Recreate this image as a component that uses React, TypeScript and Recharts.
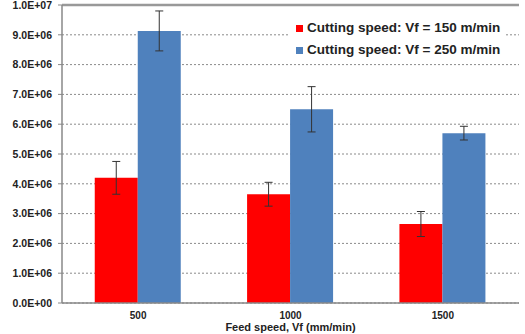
import React from "react";
import {
  BarChart,
  Bar,
  XAxis,
  YAxis,
  CartesianGrid,
  ErrorBar,
  ReferenceLine,
} from "recharts";

// Feed speed categories (mm/min)
const feedSpeeds = ["500", "1000", "1500"];
// Mean values for each cutting speed
const speed150 = [4200000, 3650000, 2650000];
const speed250 = [9130000, 6500000, 5700000];
// Error (± half range) for each series
const err150 = [550000, 400000, 420000];
const err250 = [670000, 760000, 230000];
// Y axis ticks
const yTicks = [0, 1e6, 2e6, 3e6, 4e6, 5e6, 6e6, 7e6, 8e6, 9e6, 1e7];

const seriesNames = [
  "Cutting speed: Vf = 150 m/min",
  "Cutting speed: Vf = 250 m/min",
];
const seriesColors = ["#FF0000", "#4F81BD"];

const data = feedSpeeds.map((f, i) => ({
  feed: f,
  idx: i + 0.5,
  s150: speed150[i],
  s250: speed250[i],
  e150: err150[i],
  e250: err250[i],
}));

const fmtSci = (v: number) => {
  if (v === 0) return "0.0E+00";
  const exp = Math.floor(Math.log10(v));
  const mant = v / Math.pow(10, exp);
  return `${mant.toFixed(1)}E+${String(exp).padStart(2, "0")}`;
};

const FONT = "'Liberation Sans', Arial, sans-serif";

const LegendBox = () => (
  <div
    style={{
      position: "absolute",
      left: 288,
      top: 17,
      background: "#fff",
      padding: "0px 6px 0px 8px",
      fontFamily: FONT,
      fontWeight: 700,
      fontSize: 13.5,
      color: "#222",
      lineHeight: "22px",
    }}
  >
    {seriesNames.map((n, i) => (
      <div key={n} style={{ display: "flex", alignItems: "center", whiteSpace: "nowrap" }}>
        <span
          style={{
            display: "inline-block",
            width: 7,
            height: 7,
            background: seriesColors[i],
            marginRight: 4,
          }}
        />
        {n}
      </div>
    ))}
  </div>
);

export default function App() {
  return (
    <div style={{ position: "absolute", left: 0, top: 0, width: 525, height: 334 }}>
      <BarChart
        width={525}
        height={334}
        data={data}
        margin={{ top: 5, right: 6, bottom: 0, left: 0 }}
        barCategoryGap="21.5%"
        barGap={0}
      >
        <CartesianGrid
          vertical={false}
          horizontal
          stroke="#8a8a8a"
          strokeDasharray="2 2"
          yAxisId="left"
          xAxisId="cat"
        />
        <XAxis
          xAxisId="bounds"
          type="number"
          dataKey="idx"
          domain={[0, 3]}
          ticks={[1, 2]}
          tick={false}
          tickSize={4}
          tickLine={{ stroke: "#777" }}
          axisLine={false}
          height={0}
        />
        <XAxis
          xAxisId="cat"
          dataKey="feed"
          height={31}
          tickLine={false}
          axisLine={{ stroke: "#888", strokeWidth: 1.5 }}
          tick={{ fontFamily: FONT, fontWeight: 700, fontSize: 10, fill: "#222" }}
          tickMargin={3}
          label={{
            value: "Feed speed, Vf (mm/min)",
            position: "insideBottom",
            offset: 3,
            style: { fontFamily: FONT, fontWeight: 700, fontSize: 11, fill: "#222" },
          }}
        />
        <YAxis
          yAxisId="left"
          domain={[0, 1e7]}
          ticks={yTicks}
          width={62}
          tickFormatter={fmtSci}
          tickSize={4}
          tickMargin={6}
          tickLine={{ stroke: "#888" }}
          axisLine={{ stroke: "#888", strokeWidth: 1.5 }}
          tick={{ fontFamily: FONT, fontWeight: 700, fontSize: 10.5, fill: "#222" }}
          interval={0}
        />
        <YAxis
          yAxisId="right"
          orientation="right"
          width={0}
          tick={false}
          tickLine={false}
          axisLine={{ stroke: "#999", strokeWidth: 1.5 }}
        />
        <ReferenceLine yAxisId="left" xAxisId="cat" y={1e7} stroke="#999" strokeWidth={2.5} />
        <Bar
          yAxisId="left"
          xAxisId="cat"
          dataKey="s150"
          fill={seriesColors[0]}
          isAnimationActive={false}
        >
          <ErrorBar dataKey="e150" width={4} stroke="#333" strokeWidth={1} />
        </Bar>
        <Bar
          yAxisId="left"
          xAxisId="cat"
          dataKey="s250"
          fill={seriesColors[1]}
          isAnimationActive={false}
        >
          <ErrorBar dataKey="e250" width={4} stroke="#333" strokeWidth={1} />
        </Bar>
      </BarChart>
      <LegendBox />
    </div>
  );
}
